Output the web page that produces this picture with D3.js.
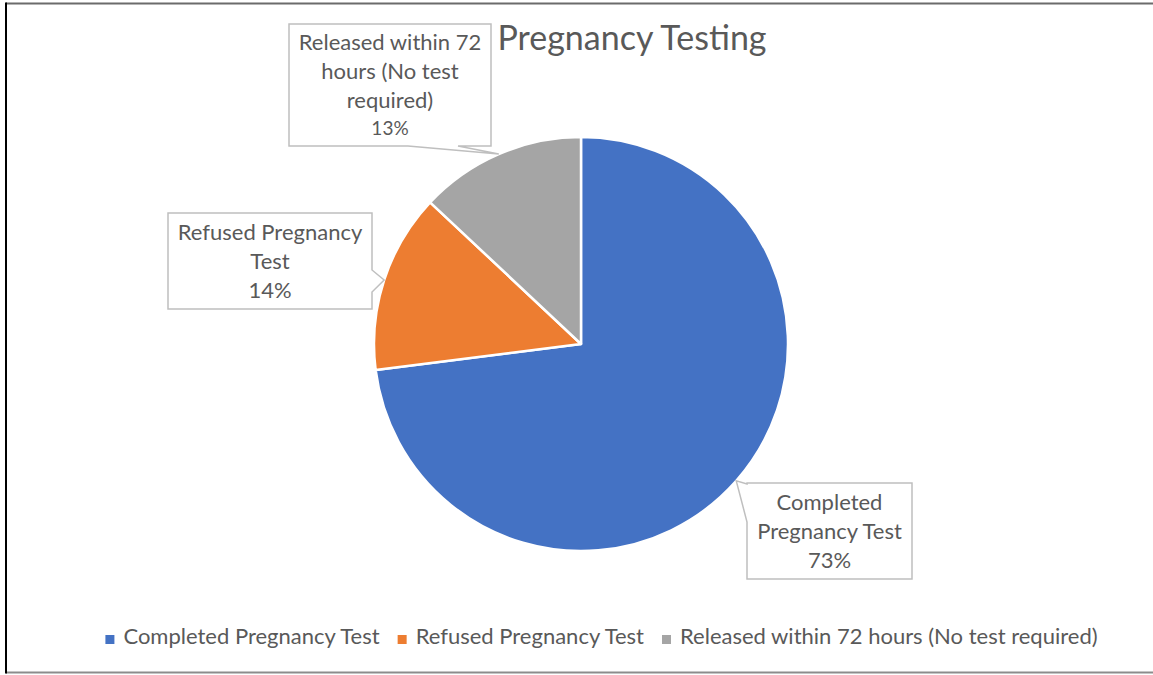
<!DOCTYPE html>
<html>
<head>
<meta charset="utf-8">
<script src="https://cdn.jsdelivr.net/npm/d3@7"></script>
<style>
  html, body { margin: 0; padding: 0; background: #fff; }
  svg { display: block; font-family: Lato, "Liberation Sans", sans-serif; }
</style>
</head>
<body>
<div id="chart"></div>
<script>
// data
const title = "Pregnancy Testing"
const categories = ["Completed Pregnancy Test", "Refused Pregnancy Test", "Released within 72 hours (No test required)"]
const values = [73, 14, 13]
const labelLines = [["Completed", "Pregnancy Test"], ["Refused Pregnancy", "Test"], ["Released within 72", "hours (No test", "required)"]]
const colors = ["#4472C4", "#ED7D31", "#A5A5A5"]

const W = 1153, H = 675
const cx = 581, cy = 344, R = 207
const textColor = "#595959"
const labelSize = 22
const lineH = 29

// callout boxes: box rect + where the pointer leaves the box
const callouts = [
    { x: 747, y: 483, w: 165, h: 96, side: "left", base: [484, 522], pctSize: 22 },
    { x: 168, y: 213, w: 204, h: 96, side: "right", base: [270, 292], pctSize: 22 },
    { x: 289, y: 24, w: 202, h: 122, side: "bottom", base: [408, 458], pctSize: 19 }
]

const svg = d3.select("#chart").append("svg")
    .attr("width", W)
    .attr("height", H)

// frame
svg.append("line").attr("x1", 6).attr("x2", W).attr("y1", 3.5).attr("y2", 3.5)
    .attr("stroke", "#6b6b6b").attr("stroke-width", 2)
svg.append("line").attr("x1", 6).attr("x2", W).attr("y1", 672.5).attr("y2", 672.5)
    .attr("stroke", "#8c8c8c").attr("stroke-width", 2)
svg.append("line").attr("x1", 6).attr("x2", 6).attr("y1", 2.5).attr("y2", 673.5)
    .attr("stroke", "#000").attr("stroke-width", 2)

// title
svg.append("text")
    .attr("x", 632).attr("y", 50)
    .attr("text-anchor", "middle")
    .attr("font-size", 34)
    .attr("fill", textColor)
    .text(title)

// pie
const pie = d3.pie().sort(null).value(d => d)
const arcs = pie(values)
const arc = d3.arc().innerRadius(0).outerRadius(R)
const edgeArc = d3.arc().innerRadius(R).outerRadius(R)

const g = svg.append("g").attr("transform", `translate(${cx},${cy})`)
g.selectAll("path.slice")
    .data(arcs)
    .enter()
    .append("path")
    .attr("class", "slice")
    .attr("d", arc)
    .attr("fill", (d, i) => colors[i])
    .attr("stroke", "#fff")
    .attr("stroke-width", 2.5)
    .attr("stroke-linejoin", "round")

// callout shape with a pointer
function calloutPath(c, tip) {
    const x0 = c.x, y0 = c.y, x1 = c.x + c.w, y1 = c.y + c.h
    const [a, b] = c.base
    let pts
    if (c.side === "left") {
        pts = [[x0, y0], [x1, y0], [x1, y1], [x0, y1], [x0, b], tip, [x0, a]]
    } else if (c.side === "right") {
        pts = [[x0, y0], [x1, y0], [x1, a], tip, [x1, b], [x1, y1], [x0, y1]]
    } else {
        pts = [[x0, y0], [x1, y0], [x1, y1], [b, y1], tip, [a, y1], [x0, y1]]
    }
    return "M" + pts.map(p => p.join(",")).join("L") + "Z"
}

const labels = svg.append("g")
arcs.forEach((d, i) => {
    const c = callouts[i]
    const e = edgeArc.centroid(d)
    const tip = [cx + e[0], cy + e[1]]
    labels.append("path")
        .attr("d", calloutPath(c, tip))
        .attr("fill", "#fff")
        .attr("stroke", "#bfbfbf")
        .attr("stroke-width", 1.5)
    const lines = labelLines[i].concat([Math.round(d.value / d3.sum(values) * 100) + "%"])
    const first = c.y + c.h / 2 - (lines.length - 1) * lineH / 2 + 8
    lines.forEach((t, k) => {
        labels.append("text")
            .attr("x", c.x + c.w / 2)
            .attr("y", first + k * lineH - (k === lines.length - 1 && c.pctSize < labelSize ? 2 : 0))
            .attr("text-anchor", "middle")
            .attr("font-size", k === lines.length - 1 ? c.pctSize : labelSize)
            .attr("fill", textColor)
            .text(t)
    })
})

// legend
const legend = svg.append("g")
const items = legend.selectAll("g.item")
    .data(categories)
    .enter()
    .append("g")
    .attr("class", "item")
items.append("rect")
    .attr("width", 9).attr("height", 9)
    .attr("y", -9)
    .attr("fill", (d, i) => colors[i])
items.append("text")
    .attr("x", 18)
    .attr("font-size", labelSize)
    .attr("fill", textColor)
    .text(d => d)
let widths = []
items.select("text").each(function () { widths.push(this.getComputedTextLength() + 18) })
const gap = 18
const total = d3.sum(widths) + gap * (widths.length - 1)
let lx = 601.5 - total / 2
items.attr("transform", (d, i) => {
    const x = lx
    lx += widths[i] + gap
    return `translate(${x},644)`
})
</script>
</body>
</html>
